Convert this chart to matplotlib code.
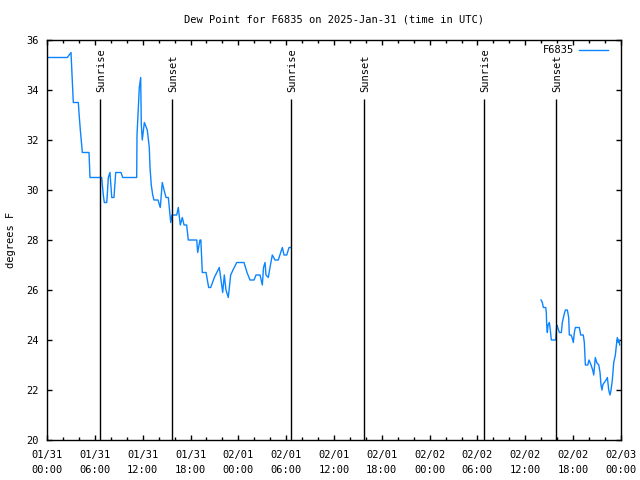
import matplotlib
matplotlib.use("Agg")
import matplotlib.pyplot as plt
from matplotlib.ticker import MultipleLocator

# ---- data (time in hours since 2025-01-31 00:00 UTC) ----
seg1_hours = [0.0, 2.55, 3.01, 3.30, 3.93, 4.01, 4.18, 4.35, 4.43, 5.27, 5.39, 6.86, 7.06, 7.19,
              7.49, 7.56, 7.69, 7.90, 8.12, 8.40, 8.62, 9.28, 9.50, 11.25, 11.29, 11.58, 11.75,
              11.83, 11.95, 12.21, 12.58, 12.83, 12.92, 13.08, 13.26, 13.42, 13.92, 14.21, 14.46,
              14.68, 14.93, 15.22, 15.43, 15.52, 15.68, 16.27, 16.47, 16.72, 16.97, 17.19, 17.52,
              17.72, 18.78, 18.90, 19.19, 19.30, 19.48, 19.95, 20.28, 20.53, 20.99, 21.61, 22.04,
              22.24, 22.45, 22.74, 23.04, 23.33, 23.80, 24.71, 25.09, 25.46, 25.97, 26.22, 26.72,
              27.01, 27.16, 27.35, 27.47, 27.76, 27.97, 28.26, 28.60, 29.01, 29.52, 29.73, 30.07,
              30.36, 30.61]
seg1_dew = [35.3, 35.3, 35.5, 33.5, 33.5, 33.1, 32.4, 31.8, 31.5, 31.5, 30.5, 30.5, 29.8, 29.5,
            29.5, 29.8, 30.5, 30.7, 29.7, 29.7, 30.7, 30.7, 30.5, 30.5, 32.2, 34.1, 34.5,
            32.6, 32.0, 32.7, 32.4, 31.7, 30.9, 30.2, 29.8, 29.6, 29.6, 29.3, 30.3,
            30.0, 29.7, 29.7, 29.0, 28.7, 29.0, 29.0, 29.3, 28.6, 28.9, 28.6, 28.6,
            28.0, 28.0, 27.5, 28.0, 28.0, 26.7, 26.7, 26.1, 26.1, 26.5, 26.9, 25.9,
            26.6, 26.0, 25.7, 26.6, 26.8, 27.1, 27.1, 26.7, 26.4, 26.4, 26.6, 26.6,
            26.2, 26.9, 27.1, 26.6, 26.5, 26.9, 27.4, 27.2, 27.2, 27.7, 27.4, 27.4,
            27.7, 27.7]

seg2_hours = [61.97, 62.13, 62.26, 62.56, 62.63, 62.68, 62.76, 62.85, 63.01, 63.10, 63.26, 63.81,
              63.94, 64.06, 64.27, 64.52, 64.64, 64.85, 65.02, 65.27, 65.44, 65.52, 65.73, 65.86,
              66.02, 66.15, 66.27, 66.77, 66.95, 67.27, 67.40, 67.53, 67.83, 67.99, 68.12, 68.24,
              68.45, 68.58, 68.78, 68.95, 69.21, 69.37, 69.49, 69.62, 69.71, 69.91, 70.12, 70.29,
              70.46, 70.62, 70.75, 70.91, 71.09, 71.29, 71.46, 71.54, 71.67, 71.75, 71.84]
seg2_dew = [25.6, 25.5, 25.3, 25.3, 25.1, 24.6, 24.3, 24.6, 24.7, 24.5, 24.0, 24.0,
            24.6, 24.5, 24.3, 24.3, 24.7, 25.0, 25.2, 25.2, 24.9, 24.2, 24.2, 24.1,
            23.9, 24.3, 24.5, 24.5, 24.2, 24.2, 23.9, 23.0, 23.0, 23.2, 23.1, 23.0,
            22.8, 22.6, 23.3, 23.1, 23.0, 22.7, 22.2, 22.0, 22.2, 22.3, 22.4, 22.5,
            22.0, 21.8, 22.0, 22.4, 23.1, 23.4, 23.9, 24.1, 23.9, 24.0, 23.8]

sun_hours = [6.69, 15.72, 30.65, 39.76, 54.82, 63.85]
sun_labels = ["Sunrise", "Sunset", "Sunrise", "Sunset", "Sunrise", "Sunset"]

xtick_hours = [0, 6, 12, 18, 24, 30, 36, 42, 48, 54, 60, 66, 72]
xtick_labels = ["01/31\n00:00", "01/31\n06:00", "01/31\n12:00", "01/31\n18:00",
                "02/01\n00:00", "02/01\n06:00", "02/01\n12:00", "02/01\n18:00",
                "02/02\n00:00", "02/02\n06:00", "02/02\n12:00", "02/02\n18:00",
                "02/03\n00:00"]
ytick_values = [20, 22, 24, 26, 28, 30, 32, 34, 36]

station = "F6835"
title = "Dew Point for F6835 on 2025-Jan-31 (time in UTC)"

# ---- plot ----
plt.rcParams['font.family'] = ['DejaVu Sans Mono']
fs = 7.5
line_color = '#0a84ff'

fig = plt.figure(figsize=(6.4, 4.8), dpi=100)
ax = fig.add_axes([47/640, 40/480, (621-47)/640, (440-40)/480])

ax.plot(seg1_hours, seg1_dew, color=line_color, lw=1, label=station)
ax.plot(seg2_hours, seg2_dew, color=line_color, lw=1)

ax.vlines(sun_hours, 20, 33.65, color='black', lw=1)
for t, lab in zip(sun_hours, sun_labels):
    ax.text(t + 0.15, 33.93, lab, rotation=90, ha='center', va='bottom', fontsize=fs)

ax.set_xlim(0, 72)
ax.set_ylim(20, 36)
ax.set_xticks(xtick_hours)
ax.set_xticklabels(xtick_labels, fontsize=fs, linespacing=1.6)
ax.xaxis.set_minor_locator(MultipleLocator(2))
ax.set_yticks(ytick_values)
ax.set_yticklabels([str(v) for v in ytick_values], fontsize=fs)
ax.tick_params(axis='y', which='major', direction='in', length=3.3, width=1,
               left=True, right=True, pad=6)
ax.tick_params(axis='x', which='major', direction='in', length=3.3, width=1,
               top=True, bottom=True, pad=7)
ax.tick_params(axis='x', which='minor', direction='in', length=2, width=1,
               top=True, bottom=True)
for s in ax.spines.values():
    s.set_linewidth(1)

ax.set_ylabel("degrees F", fontsize=fs, labelpad=7)
ax.set_title(title, fontsize=fs, pad=12.5)

ax.legend(loc='upper right', frameon=False, markerfirst=False, fontsize=fs,
          handlelength=2.8, handletextpad=0.5, borderaxespad=0.0,
          bbox_to_anchor=(0.985, 0.997))

fig.savefig("out.png", dpi=100)
